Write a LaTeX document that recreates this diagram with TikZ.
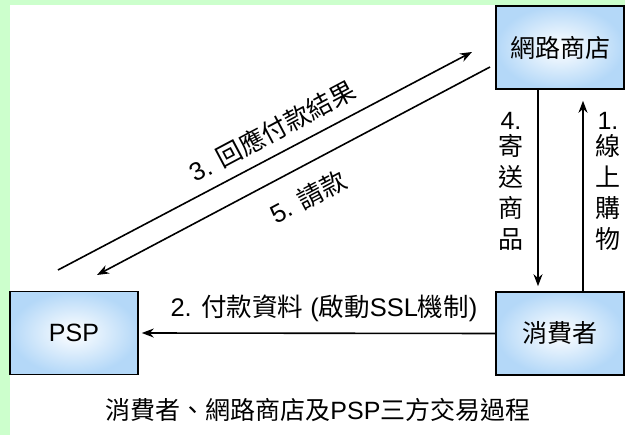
\documentclass[tikz,border=0pt]{standalone}
\usepackage{fontspec}
\setmainfont{Liberation Sans}
\newfontfamily\cjk{Noto Sans CJK TC}
\usetikzlibrary{arrows.meta}
\definecolor{bggreen}{HTML}{CCFFCC}
\definecolor{boxblue}{HTML}{B4D8F8}
\begin{document}
\begin{tikzpicture}[x=1pt,y=-1pt,
  box/.style={draw=black,line width=1.6pt,inner color=white,outer color=boxblue,
    minimum width=128pt,minimum height=83pt,inner sep=0pt,font=\fontsize{25}{30}\selectfont},
  arr/.style={line width=1.6pt,-{Stealth[length=12pt,width=9pt]}},
  lbl/.style={inner sep=0pt,font=\fontsize{25.5}{31}\selectfont},
  vlbl/.style={inner sep=0pt,align=center,font=\fontsize{25}{31}\selectfont}]
\useasboundingbox (0,0) rectangle (625,435);
\fill[white] (0,0) rectangle (625,435);
\fill[bggreen] (0,0) rectangle (625,5);
\fill[bggreen] (0,0) rectangle (10,435);
% boxes
\node[box] (shop) at (560,47.5) {\cjk 網路商店};
\node[box] (psp) at (74,333) {PSP};
\node[box] (cons) at (560,333.5) {\cjk 消費者};
% free ends of the diagonal connectors
\coordinate (a3s) at (58,270);
\coordinate (a3e) at (472,52);
\coordinate (a5s) at (490,67);
\coordinate (a5e) at (97,275);
% connectors
\draw[arr] (a3s) -- (a3e);
\draw[arr] (a5s) -- (a5e);
\draw[arr,shorten >=3pt] (cons.west) -- (psp.east);
\draw[arr,shorten >=5pt] ([xshift=-22pt]shop.south) -- ([xshift=-22pt]cons.north);
\draw[arr,shorten >=11pt] ([xshift=23pt]cons.north) -- ([xshift=23pt]shop.south);
% labels
\node[lbl,rotate=28] (l3) at (272,131) {3. {\cjk 回應付款結果}};
\node[lbl,rotate=28] (l5) at (308,197) {5. {\cjk 請款}};
\node[lbl] (l2) at (324,308) {2. {\cjk 付款資料} ({\cjk 啟動}SSL{\cjk 機制})};
\node[vlbl,anchor=north] (l4) at (511,112) {4.\\[-5pt]{\cjk 寄}\\{\cjk 送}\\{\cjk 商}\\{\cjk 品}};
\node[vlbl,anchor=north] (l1) at (608,112) {1.\\[-5pt]{\cjk 線}\\{\cjk 上}\\{\cjk 購}\\{\cjk 物}};
\node[lbl,font=\fontsize{25}{30}\selectfont] (cap) at (318,410) {{\cjk 消費者、網路商店及}PSP{\cjk 三方交易過程}};
\end{tikzpicture}
\end{document}
